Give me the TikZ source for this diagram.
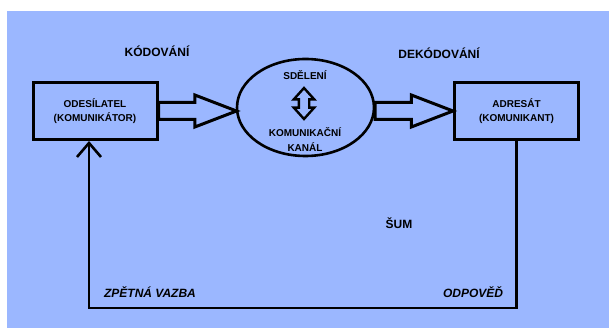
\documentclass[tikz,border=0pt]{standalone}
\usepackage{fontspec}
\setmainfont{Liberation Sans}
\usetikzlibrary{positioning,shapes.geometric,shapes.arrows,arrows.meta}
\definecolor{sky}{RGB}{155,183,255}

\tikzset{
	box/.style={draw, line width=3pt, minimum width=124pt, minimum height=57pt, align=center, font=\fontsize{10}{14.5}\selectfont\bfseries},
	chanel/.style={draw, ellipse, line width=2.6pt, minimum width=137pt, minimum height=97pt, inner sep=0pt},
	fatarrow/.style={draw, single arrow, line width=3pt, inner xsep=0pt, inner ysep=7pt, outer sep=0pt, single arrow head extend=7.5pt, single arrow tip angle=42, minimum height=78pt, minimum width=29pt},
	dblarrow/.style={draw, double arrow, line width=2.4pt, inner xsep=0pt, inner ysep=4pt, outer sep=0pt, double arrow head extend=5pt, double arrow tip angle=84, minimum height=31pt, minimum width=18pt},
	lbl/.style={font=\fontsize{12}{14}\selectfont\bfseries},
	small/.style={align=center, font=\fontsize{10}{15}\selectfont\bfseries},
	fback/.style={line width=2.6pt, -{Straight Barb[length=14pt,width=24pt,line width=2.6pt]}}
}

\begin{document}
\begin{tikzpicture}[x=1pt, y=-1pt]
		\useasboundingbox (0,0) rectangle (609,328);
		\fill[sky] (7,11) rectangle (609,328);
		
		% Define nodes
		\node[box] (send) at (95,111) {ODESÍLATEL\\(KOMUNIKÁTOR)};
		\node[box] (recv) at (516.5,111) {ADRESÁT\\(KOMUNIKANT)};
		\node[chanel] (chan) at (305.5,107.5) {};
		\node[fatarrow, right=0pt of send] (enc) {};
		\node[fatarrow, left=0pt of recv] (dec) {};
		\node[dblarrow, rotate=90] (msg) at (304,103.5) {};
		\node[small] (msgtxt) at (305,75) {SDĚLENÍ};
		\node[small] (chantxt) at (305,139.5) {KOMUNIKAČNÍ\\KANÁL};
		\node[lbl] (enctxt) at (157,51) {KÓDOVÁNÍ};
		\node[lbl] (dectxt) at (439,53) {DEKÓDOVÁNÍ};
		\node[lbl] (noise) at (399,223) {ŠUM};
		\node[lbl, font=\fontsize{12}{14}\selectfont\bfseries\itshape] (fbtxt) at (150,292) {ZPĚTNÁ VAZBA};
		\node[lbl, font=\fontsize{12}{14}\selectfont\bfseries\itshape] (anstxt) at (473,292) {ODPOVĚĎ};
		\coordinate (corner) at (89,308);
		
		% Connect the nodes
		\draw[fback] (recv.south) |- (corner) -- (corner |- send.south);
	\end{tikzpicture}
\end{document}
